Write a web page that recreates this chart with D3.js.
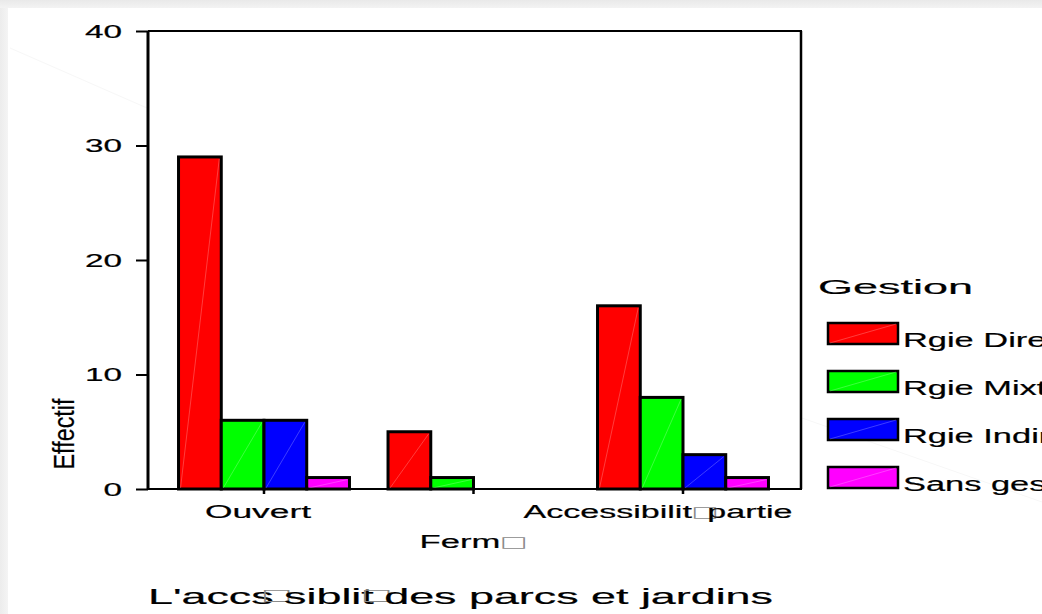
<!DOCTYPE html>
<html><head><meta charset="utf-8">
<script src="https://cdn.jsdelivr.net/npm/d3@7"></script>
<style>
body{margin:0;background:#fff;}
svg{display:block;}
text{font-family:"Liberation Sans",Arial,Helvetica,sans-serif;fill:#000;stroke:#000;stroke-width:0.2px;}
</style>
</head><body>
<svg id="chart" width="1042" height="614"></svg>
<script>
// ---- data ----
const categories = ["Ouvert", "Ferm\u25A1", "Accessibilit\u25A1partie"];
const seriesNames = ["Rgie Directe", "Rgie Mixte", "Rgie Indirecte", "Sans gestion"];
const seriesColors = ["#ff0000", "#00ff00", "#0000ff", "#ff00ff"];
const rgieDirecte   = [29, 5, 16];
const rgieMixte     = [6, 1, 8];
const rgieIndirecte = [6, 0, 3];
const sansGestion   = [1, 0, 1];
const yTicks = [0, 10, 20, 30, 40];
const yLabel = "Effectif";
const legendTitle = "Gestion";
const chartTitle = "L'accs\u25A1siblit\u25A1des parcs et jardins";

const seriesValues = [rgieDirecte, rgieMixte, rgieIndirecte, sansGestion];

// ---- layout ----
const svg = d3.select("#chart");
const plot = {left: 148, right: 801, top: 31, bottom: 489};

// background shading (top & left bands)
const defs = svg.append("defs");
const gTop = defs.append("linearGradient").attr("id","gTop").attr("x1",0).attr("y1",0).attr("x2",0).attr("y2",1);
gTop.append("stop").attr("offset","0%").attr("stop-color","#e9e9e9");
gTop.append("stop").attr("offset","100%").attr("stop-color","#f3f3f3");
const gLeft = defs.append("linearGradient").attr("id","gLeft").attr("x1",0).attr("y1",0).attr("x2",1).attr("y2",0);
gLeft.append("stop").attr("offset","0%").attr("stop-color","#ececec");
gLeft.append("stop").attr("offset","100%").attr("stop-color","#f4f4f4");
svg.append("rect").attr("x",0).attr("y",0).attr("width",1042).attr("height",8).attr("fill","url(#gTop)");
svg.append("rect").attr("x",0).attr("y",8).attr("width",8).attr("height",606).attr("fill","url(#gLeft)");
// very faint watermark lines
svg.append("line").attr("x1",10).attr("y1",48).attr("x2",147).attr("y2",108).attr("stroke","#f7f7f7").attr("stroke-width",1);
svg.append("line").attr("x1",802).attr("y1",418).attr("x2",1042).attr("y2",502).attr("stroke","#f7f7f7").attr("stroke-width",1);

const x = d3.scaleBand().domain(categories).range([159.25, 787.75]).paddingInner(0.184).paddingOuter(0.092);
const xs = d3.scaleBand().domain(d3.range(seriesNames.length)).range([0, x.bandwidth()]);
const y = d3.scaleLinear().domain([0, 40]).range([plot.bottom, plot.top]);

// helper: text with missing-glyph box rendered as gray tspan
function fillText(sel, str, boxSize, boxDx, afterDx, lift) {
  const parts = str.split("\u25A1");
  parts.forEach((p, i) => {
    if (p.length) {
      const ts = sel.append("tspan").text(p);
      if (i > 0) ts.attr("dy", lift).attr("dx", afterDx || 0);
    }
    if (i < parts.length - 1) {
      sel.append("tspan").style("fill","#8a8a8a").style("stroke-width","0px")
        .style("font-family","'DejaVu Sans'").style("font-size", boxSize + "px")
        .attr("dy", -lift).attr("dx", boxDx || 0).text("\u25A1");
    }
  });
}

// frame lines
svg.append("line").attr("x1",plot.left).attr("x2",plot.right+1).attr("y1",plot.top).attr("y2",plot.top).attr("stroke","#000").attr("stroke-width",2);
svg.append("line").attr("x1",plot.right).attr("x2",plot.right).attr("y1",plot.top).attr("y2",plot.bottom).attr("stroke","#000").attr("stroke-width",2.5);

// bars
const groups = svg.append("g").selectAll("g").data(categories).join("g")
  .attr("transform", d => `translate(${x(d)},0)`);
groups.each(function(cat, ci) {
  const g = d3.select(this);
  seriesValues.forEach((vals, si) => {
    const v = vals[ci];
    if (v <= 0) return;
    const bx = xs(si), bw = xs.bandwidth(), by = y(v), bh = y(0) - y(v);
    g.append("rect").attr("x", bx).attr("y", by).attr("width", bw).attr("height", bh)
      .attr("fill", seriesColors[si]).attr("stroke", "#000").attr("stroke-width", 3);
    g.append("line").attr("x1", bx + 2).attr("y1", y(0) - 1).attr("x2", bx + bw - 2).attr("y2", by + 2)
      .attr("stroke", "rgba(255,255,255,0.3)").attr("stroke-width", 0.8);
  });
});

// y axis
const yAxis = svg.append("g").attr("transform", `translate(${plot.left},0)`)
  .call(d3.axisLeft(y).tickValues(yTicks).tickSize(12).tickPadding(14).tickFormat(d3.format("d")));
yAxis.select(".domain").attr("stroke","#000").attr("stroke-width",3).attr("d", `M0,${plot.top}V${plot.bottom}`);
yAxis.selectAll(".tick line").attr("stroke","#000").attr("stroke-width",2);
yAxis.selectAll(".tick text").style("font-size","18px").attr("dy","0.36em").attr("font-family", null)
  .attr("textLength", d => String(d).length * 18.5).attr("lengthAdjust","spacingAndGlyphs");

// x axis
const xAxis = svg.append("g").attr("transform", `translate(0,${plot.bottom})`)
  .call(d3.axisBottom(x).tickSize(5).tickFormat(""));
xAxis.select(".domain").attr("stroke","#000").attr("stroke-width",2).attr("d", `M${plot.left},0H${plot.right+1}`);
xAxis.selectAll(".tick line").attr("stroke","#000").attr("stroke-width",2.5);
const xLabelInfo = [{dx: -6, row: 0, w: 106}, {dx: 0, row: 1, w: 108}, {dx: -25, row: 0, w: 269}];
categories.forEach((c, i) => {
  const info = xLabelInfo[i];
  const t = svg.append("text").attr("x", x(c) + x.bandwidth()/2 + info.dx)
    .attr("y", 518 + info.row * 30).attr("text-anchor","middle").style("font-size","18px")
    .attr("textLength", info.w).attr("lengthAdjust","spacingAndGlyphs");
  fillText(t, c, 15, 0, -6, 1);
});

// y label
svg.append("text").attr("transform", "translate(74,434) rotate(-90)")
  .attr("text-anchor","middle").style("font-size","30px")
  .attr("textLength", 71).attr("lengthAdjust","spacingAndGlyphs").text(yLabel);

// title
const tt = svg.append("text").attr("x", 148).attr("y", 604).style("font-size","22px")
  .attr("textLength", 625).attr("lengthAdjust","spacingAndGlyphs");
fillText(tt, chartTitle, 16, -6, -4, 4);

// legend
svg.append("text").attr("x", 818).attr("y", 294).style("font-size","21px")
  .attr("textLength", 155).attr("lengthAdjust","spacingAndGlyphs").text(legendTitle);
const legend = svg.append("g");
seriesNames.forEach((name, i) => {
  const ly = 323 + i * 48;
  legend.append("rect").attr("x", 828).attr("y", ly).attr("width", 70).attr("height", 21)
    .attr("fill", seriesColors[i]).attr("stroke","#000").attr("stroke-width",2.5);
  legend.append("line").attr("x1", 830).attr("y1", ly + 20).attr("x2", 896).attr("y2", ly + 1)
    .attr("stroke","rgba(255,255,255,0.3)").attr("stroke-width",0.8);
  const t = legend.append("text").attr("x", 903).attr("y", ly + 24).style("font-size","20px").text(name);
  const w = t.node().getComputedTextLength();
  t.attr("textLength", w * 1.72).attr("lengthAdjust","spacingAndGlyphs");
});
</script>
</body></html>
